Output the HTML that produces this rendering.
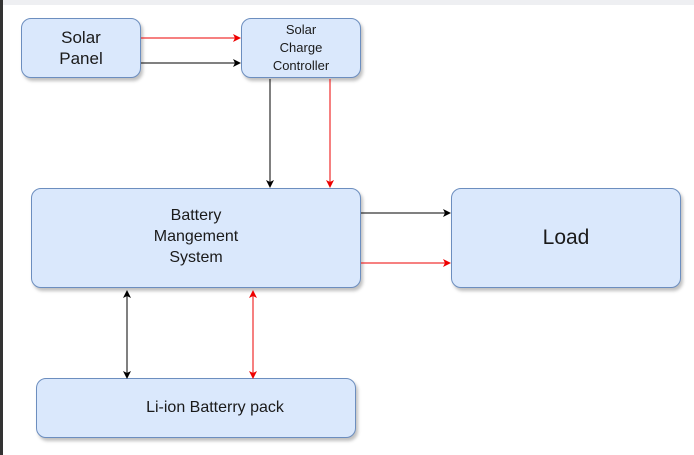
<!DOCTYPE html>
<html><head><style>
body{margin:0;width:694px;height:455px;background:#fff;overflow:hidden;position:relative;font-family:"Liberation Sans",Arial,sans-serif}
.b{position:absolute;background:#dae8fc;border:1px solid #6c8ebf;border-radius:10px;box-sizing:border-box;display:flex;align-items:center;justify-content:center;text-align:center;color:#1a1a1a;box-shadow:2px 3px 3px rgba(0,0,0,0.25)}
</style></head><body>
<div style="position:absolute;left:0;top:0;width:694px;height:5px;background:#eeeff2"></div>
<div style="position:absolute;left:0;top:0;width:3px;height:455px;background:#333"></div>
<div class="b" style="left:21px;top:18px;width:120px;height:60px;font-size:17px;line-height:21px">Solar<br>Panel</div>
<div class="b" style="left:241px;top:18px;width:120px;height:60px;font-size:13px;line-height:18px">Solar<br>Charge<br>Controller</div>
<div class="b" style="left:31px;top:188px;width:330px;height:100px;font-size:16px;line-height:21px;padding-bottom:4px">Battery<br>Mangement<br>System</div>
<div class="b" style="left:451px;top:188px;width:230px;height:100px;font-size:21px">Load</div>
<div class="b" style="left:36px;top:378px;width:320px;height:60px;font-size:16px;padding-left:38px">Li-ion Batterry pack</div>
<svg width="694" height="455" style="position:absolute;left:0;top:0">
<defs>
<marker id="k" markerWidth="8" markerHeight="8" refX="7" refY="4" orient="auto-start-reverse" markerUnits="userSpaceOnUse"><path d="M0,0 L8,4 L0,8 L2,4z" fill="#000"/></marker>
<marker id="r" markerWidth="8" markerHeight="8" refX="7" refY="4" orient="auto-start-reverse" markerUnits="userSpaceOnUse"><path d="M0,0 L8,4 L0,8 L2,4z" fill="#e00"/></marker>
</defs>
<line x1="141" y1="38" x2="240" y2="38" stroke="#e00" marker-end="url(#r)"/>
<line x1="141" y1="63" x2="240" y2="63" stroke="#000" marker-end="url(#k)"/>
<line x1="270" y1="79" x2="270" y2="187" stroke="#000" marker-end="url(#k)"/>
<line x1="330" y1="79" x2="330" y2="187" stroke="#e00" marker-end="url(#r)"/>
<line x1="361" y1="213" x2="450" y2="213" stroke="#000" marker-end="url(#k)"/>
<line x1="361" y1="263" x2="450" y2="263" stroke="#e00" marker-end="url(#r)"/>
<line x1="127" y1="291" x2="127" y2="378" stroke="#000" marker-start="url(#k)" marker-end="url(#k)"/>
<line x1="253" y1="291" x2="253" y2="378" stroke="#e00" marker-start="url(#r)" marker-end="url(#r)"/>
</svg>
</body></html>
